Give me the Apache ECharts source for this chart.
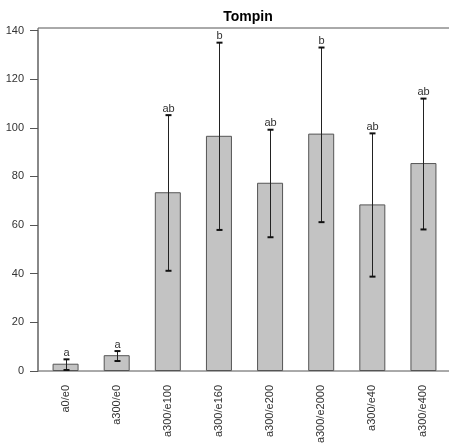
<!DOCTYPE html>
<html>
<head>
<meta charset="utf-8">
<script src="https://cdn.jsdelivr.net/npm/echarts@6/dist/echarts.min.js"></script>
<style>html,body{margin:0;padding:0;background:#fff}#c{width:449px;height:443px}</style>
</head>
<body>
<div id="c"></div>
<script>
var categories = ['a0/e0','a300/e0','a300/e100','a300/e160','a300/e200','a300/e2000','a300/e40','a300/e400'];
var means = [3, 6.5, 73.5, 96.7, 77.4, 97.6, 68.5, 85.5];
var upper = [4.8, 8.2, 105.2, 135, 99.2, 133, 97.7, 112];
var lower = [0.4, 4.1, 41.2, 58, 55, 61.2, 38.8, 58.2];
var letters = ['a','a','ab','b','ab','b','ab','ab'];

var errData = categories.map(function (c, i) { return [i, lower[i], upper[i], letters[i]]; });

var chart = echarts.init(document.getElementById('c'), null, {renderer: 'canvas'});
chart.setOption({
  animation: false,
  backgroundColor: '#fff',
  title: {
    text: 'Tompin', left: 243, top: 5, textAlign: 'center',
    textStyle: {fontFamily: 'Liberation Sans, Arial', fontSize: 14, fontWeight: 'bold', color: '#000'}
  },
  grid: [
    {left: 40, top: 30.5, width: 409, height: 340.5, containLabel: false, outerBoundsMode: 'none'},
    {left: 38, top: 28, width: 413, height: 343, show: true, borderColor: '#555', borderWidth: 1, backgroundColor: 'transparent', z: 0, containLabel: false, outerBoundsMode: 'none'}
  ],
  xAxis: [{
    type: 'category', data: categories, gridIndex: 0,
    axisLine: {show: false},
    axisTick: {show: false},
    axisLabel: {rotate: 90, margin: 14, fontSize: 11, color: '#333', fontFamily: 'Liberation Sans, Arial'}
  }, {
    type: 'value', gridIndex: 1, min: 0, max: 1, show: false
  }],
  yAxis: [{
    type: 'value', min: 0, max: 140, interval: 20, offset: 2, gridIndex: 0,
    splitLine: {show: false},
    axisLine: {show: true, lineStyle: {color: '#888', width: 2}},
    axisTick: {show: true, length: 8, lineStyle: {color: '#555', width: 1}},
    axisLabel: {margin: 14, fontSize: 11, color: '#333', fontFamily: 'Liberation Sans, Arial'}
  }, {
    type: 'value', gridIndex: 1, min: 0, max: 1, show: false
  }],
  series: [{
    type: 'bar', data: means, barWidth: 26, xAxisIndex: 0, yAxisIndex: 0,
    itemStyle: {color: '#c3c3c3', borderColor: '#555', borderWidth: 1}
  }, {
    type: 'custom', data: errData, z: 10, xAxisIndex: 0, yAxisIndex: 0,
    renderItem: function (params, api) {
      var x = api.value(0);
      var lo = api.coord([x, api.value(1)]);
      var hi = api.coord([x, api.value(2)]);
      var cx = Math.round(lo[0]) + 0.5;
      var st = {stroke: '#222', lineWidth: 1};
      return {
        type: 'group',
        children: [
          {type: 'line', shape: {x1: cx, y1: lo[1], x2: cx, y2: hi[1]}, style: st},
          {type: 'line', shape: {x1: cx - 3, y1: lo[1], x2: cx + 3, y2: lo[1]}, style: {stroke: '#111', lineWidth: 2}},
          {type: 'line', shape: {x1: cx - 3, y1: hi[1], x2: cx + 3, y2: hi[1]}, style: {stroke: '#111', lineWidth: 2}},
          {type: 'text', style: {text: api.value(3), x: cx, y: hi[1] - 1, textAlign: 'center', textVerticalAlign: 'bottom',
            fontSize: 11, fontFamily: 'Liberation Sans, Arial', fill: '#333'}}
        ]
      };
    }
  }]
});
</script>
</body>
</html>
